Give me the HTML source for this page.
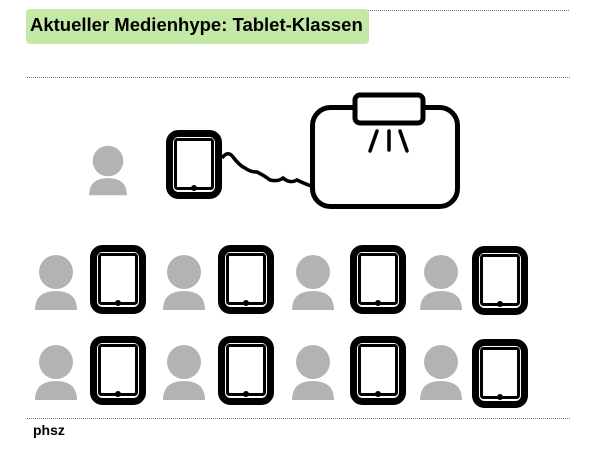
<!DOCTYPE html>
<html><head><meta charset="utf-8"><style>
html,body{margin:0;padding:0;background:#fff;width:600px;height:450px;overflow:hidden}
</style></head><body>
<svg width="600" height="450" viewBox="0 0 600 450" xmlns="http://www.w3.org/2000/svg">
<defs>
<g id="tab">
<rect x="3.5" y="3.5" width="49" height="62" rx="9" fill="#fff" stroke="#000" stroke-width="7"/>
<rect x="9.5" y="9.5" width="37" height="49" rx="2" fill="#fff" stroke="#000" stroke-width="3"/>
<circle cx="28" cy="58" r="3" fill="#000"/>
</g>
<g id="per">
<circle cx="0" cy="0" r="17" fill="#b3b3b3"/>
<path d="M-21 38 Q-21 19 0 19 Q21 19 21 38 Z" fill="#b3b3b3"/>
</g>
</defs>
<line x1="318" y1="10.5" x2="570" y2="10.5" stroke="#777" stroke-width="1" stroke-dasharray="1,1"/>
<rect x="26" y="9" width="343" height="35" rx="4" fill="#c4e8a5"/>
<text x="30" y="31" font-family="Liberation Sans, sans-serif" font-weight="bold" font-size="18.5" fill="#000">Aktueller Medienhype: Tablet-Klassen</text>
<line x1="27" y1="77.5" x2="570" y2="77.5" stroke="#777" stroke-width="1" stroke-dasharray="1,1"/>

<g transform="translate(108,161) scale(0.9)"><use href="#per"/></g>
<use href="#tab" x="166" y="130"/>
<path d="M222 158 Q228 150 233 157 Q240 166 245 168 Q250 172 257 172 Q265 176 270 180 Q278 182 283 178 Q290 184 297 180 Q303 183 311 186" fill="none" stroke="#000" stroke-width="3.5"/>
<rect x="312.5" y="107.5" width="145" height="99" rx="18" fill="#fff" stroke="#000" stroke-width="5"/>
<rect x="355" y="95" width="68" height="28" rx="5" fill="#fff" stroke="#000" stroke-width="5"/>
<g stroke="#000" stroke-width="3.5" stroke-linecap="round">
<line x1="377" y1="131" x2="370" y2="151"/>
<line x1="389" y1="131" x2="389" y2="150"/>
<line x1="400" y1="131" x2="407" y2="151"/>
</g>

<use href="#per" x="56" y="272"/><use href="#tab" x="90" y="245"/>
<use href="#per" x="184" y="272"/><use href="#tab" x="218" y="245"/>
<use href="#per" x="313" y="272"/><use href="#tab" x="350" y="245"/>
<use href="#per" x="441" y="272"/><use href="#tab" x="472" y="246"/>

<use href="#per" x="56" y="362"/><use href="#tab" x="90" y="336"/>
<use href="#per" x="184" y="362"/><use href="#tab" x="218" y="336"/>
<use href="#per" x="313" y="362"/><use href="#tab" x="350" y="336"/>
<use href="#per" x="441" y="362"/><use href="#tab" x="472" y="339"/>

<line x1="27" y1="418.5" x2="570" y2="418.5" stroke="#777" stroke-width="1" stroke-dasharray="1,1"/>
<text x="33" y="435" font-family="Liberation Sans, sans-serif" font-weight="bold" font-size="14" fill="#000">phsz</text>
</svg>
</body></html>
